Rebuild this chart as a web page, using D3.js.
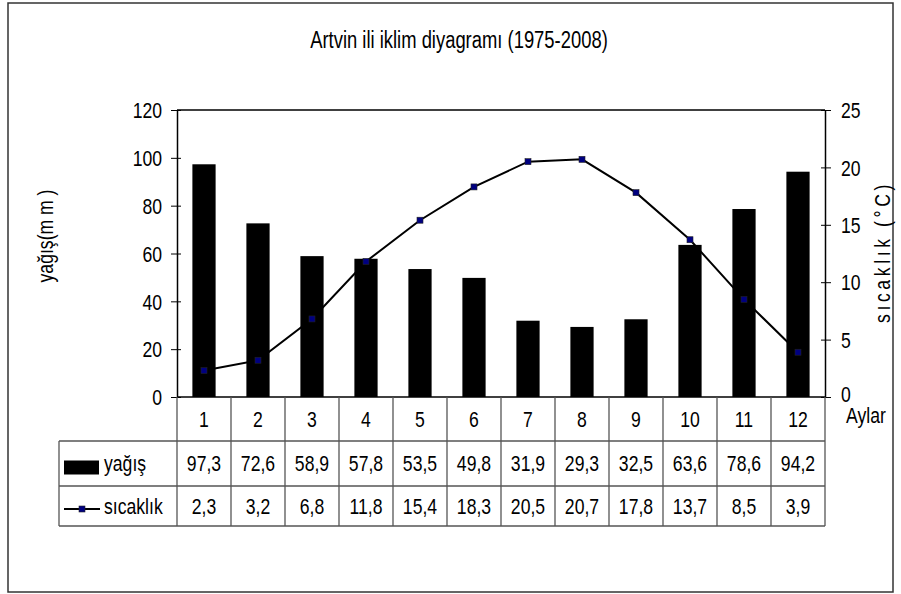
<!DOCTYPE html>
<html>
<head>
<meta charset="utf-8">
<script src="https://cdn.jsdelivr.net/npm/d3@7"></script>
<style>
  body { margin: 0; background: #fff; }
  svg text { font-family: "Liberation Sans", Arial, sans-serif; fill: #000; }
</style>
</head>
<body>
<svg id="chart" width="901" height="594"></svg>
<script>
// Artvin monthly climate data (1975-2008)
const months = ["1", "2", "3", "4", "5", "6", "7", "8", "9", "10", "11", "12"];
const precipitation = [97.3, 72.6, 58.9, 57.8, 53.5, 49.8, 31.9, 29.3, 32.5, 63.6, 78.6, 94.2];
const temperature = [2.3, 3.2, 6.8, 11.8, 15.4, 18.3, 20.5, 20.7, 17.8, 13.7, 8.5, 3.9];
const precipTicks = [0, 20, 40, 60, 80, 100, 120];
const tempTicks = [0, 5, 10, 15, 20, 25];

const title = "Artvin ili iklim diyagramı (1975-2008)";
const seriesNames = ["yağış", "sıcaklık"];
const fmt = v => String(v).replace(".", ",");

const svg = d3.select("#chart");
const plotLeft = 177, plotRight = 825, plotTop = 110, plotBottom = 397;
const rowH = [44, 45, 40];   // header row, precipitation row, temperature row
const legendLeft = 59;
const FS = 22;               // base font size (condensed afterwards)

// outer frame
svg.append("rect").attr("x", 8).attr("y", 3).attr("width", 885).attr("height", 589)
  .attr("fill", "none").attr("stroke", "#333").attr("stroke-width", 1.5);

svg.append("text").attr("x", 459).attr("y", 48).attr("text-anchor", "middle")
  .attr("font-size", 23).text(title);

const x = d3.scaleBand().domain(months).range([plotLeft, plotRight]);
const yP = d3.scaleLinear().domain([0, 120]).range([plotBottom, plotTop]);
const yT = d3.scaleLinear().domain([0, 25]).range([plotBottom, plotTop]);

// plot frame top line
svg.append("line").attr("x1", plotLeft).attr("x2", plotRight).attr("y1", plotTop).attr("y2", plotTop)
  .attr("stroke", "#000").attr("stroke-width", 1.5);

// bars
const barW = x.bandwidth() * 0.43;
svg.append("g").selectAll("rect").data(precipitation).join("rect")
  .attr("x", (d, i) => x(months[i]) + (x.bandwidth() - barW) / 2)
  .attr("y", d => yP(d))
  .attr("width", barW)
  .attr("height", d => yP(0) - yP(d))
  .attr("fill", "#000");

// temperature line
const line = d3.line()
  .x((d, i) => x(months[i]) + x.bandwidth() / 2)
  .y(d => yT(d));
svg.append("path").datum(temperature).attr("d", line)
  .attr("fill", "none").attr("stroke", "#000").attr("stroke-width", 2);
svg.append("g").selectAll("rect").data(temperature).join("rect")
  .attr("x", (d, i) => x(months[i]) + x.bandwidth() / 2 - 3)
  .attr("y", d => yT(d) - 3)
  .attr("width", 6).attr("height", 6)
  .attr("fill", "#000080").attr("stroke", "#222").attr("stroke-width", 0.6);

// left axis
const axL = d3.axisLeft(yP).tickValues(precipTicks).tickSizeInner(6).tickSizeOuter(0).tickPadding(8);
const gL = svg.append("g").attr("transform", `translate(${plotLeft},0)`).call(axL);
gL.select(".domain").attr("stroke", "#000").attr("stroke-width", 1.5);
gL.selectAll(".tick line").attr("stroke", "#000").attr("x2", -6).attr("x1", 4);
gL.selectAll(".tick text").attr("font-size", FS).attr("dy", "0.35em").attr("x", -15);

// right axis
const axR = d3.axisRight(yT).tickValues(tempTicks).tickSizeInner(6).tickSizeOuter(0).tickPadding(8);
const gR = svg.append("g").attr("transform", `translate(${plotRight},0)`).call(axR);
gR.select(".domain").attr("stroke", "#000").attr("stroke-width", 1.5);
gR.selectAll(".tick line").attr("stroke", "#000").attr("x1", -4).attr("x2", 6);
gR.selectAll(".tick text").attr("font-size", FS).attr("dy", "0.35em").attr("x", 16);
gR.selectAll(".tick text").filter(d => d === 0).attr("dy", "0.2em");
d3.selectAll(".tick text").attr("fill", "#000");
gL.attr("font-family", null); gR.attr("font-family", null);

// baseline
svg.append("line").attr("x1", plotLeft).attr("x2", plotRight).attr("y1", plotBottom).attr("y2", plotBottom)
  .attr("stroke", "#000").attr("stroke-width", 1.5);

// axis titles
svg.append("text").attr("transform", "translate(53,236) rotate(-90)")
  .attr("text-anchor", "middle").attr("font-size", FS)
  .text("yağış(m m )");
svg.append("text").attr("transform", "translate(890,252) rotate(-90)")
  .attr("text-anchor", "middle").attr("font-size", FS).attr("letter-spacing", 4.5)
  .text("sıcaklık (°C)");
svg.append("text").attr("x", 846).attr("y", 423).attr("font-size", FS).text("Aylar");

// data table under the axis
const gridColor = "#555";
const y0 = plotBottom, y1 = y0 + rowH[0], y2 = y1 + rowH[1], y3 = y2 + rowH[2];
const table = svg.append("g");
// horizontal rules
[y1, y2, y3].forEach(yy => table.append("line")
  .attr("x1", legendLeft).attr("x2", plotRight).attr("y1", yy).attr("y2", yy)
  .attr("stroke", gridColor).attr("stroke-width", 1.3));
// column dividers
const edges = months.map(m => x(m)).concat([plotRight]);
edges.forEach(xx => table.append("line")
  .attr("x1", xx).attr("x2", xx).attr("y1", y0).attr("y2", y3)
  .attr("stroke", gridColor).attr("stroke-width", 1.3));
table.append("line").attr("x1", legendLeft).attr("x2", legendLeft).attr("y1", y1).attr("y2", y3)
  .attr("stroke", gridColor).attr("stroke-width", 1.3);

const cx = m => x(m) + x.bandwidth() / 2;
table.selectAll("text.month").data(months).join("text").attr("class", "month")
  .attr("x", d => cx(d)).attr("y", (y0 + y1) / 2).attr("dy", "0.35em")
  .attr("text-anchor", "middle").attr("font-size", FS).text(d => d);
table.selectAll("text.prec").data(precipitation).join("text").attr("class", "prec")
  .attr("x", (d, i) => cx(months[i])).attr("y", (y1 + y2) / 2).attr("dy", "0.35em")
  .attr("text-anchor", "middle").attr("font-size", FS).text(fmt);
table.selectAll("text.temp").data(temperature).join("text").attr("class", "temp")
  .attr("x", (d, i) => cx(months[i])).attr("y", (y2 + y3) / 2).attr("dy", "0.35em")
  .attr("text-anchor", "middle").attr("font-size", FS).text(fmt);

// legend keys inside the table
table.append("rect").attr("x", 64).attr("y", (y1 + y2) / 2 - 3).attr("width", 35).attr("height", 14)
  .attr("fill", "#000");
table.append("text").attr("x", 104).attr("y", (y1 + y2) / 2).attr("dy", "0.35em")
  .attr("font-size", FS).text(seriesNames[0]);
table.append("line").attr("x1", 64).attr("x2", 100).attr("y1", (y2 + y3) / 2 + 3).attr("y2", (y2 + y3) / 2 + 3)
  .attr("stroke", "#000").attr("stroke-width", 2);
table.append("rect").attr("x", 79).attr("y", (y2 + y3) / 2).attr("width", 6).attr("height", 6)
  .attr("fill", "#000080").attr("stroke", "#222").attr("stroke-width", 0.6);
table.append("text").attr("x", 104).attr("y", (y2 + y3) / 2).attr("dy", "0.35em")
  .attr("font-size", FS).text(seriesNames[1]);

// condense every label horizontally (narrow typeface look)
svg.selectAll("text").each(function () {
  const w = this.getComputedTextLength();
  d3.select(this).attr("textLength", w * 0.8).attr("lengthAdjust", "spacingAndGlyphs");
});
</script>
</body>
</html>
